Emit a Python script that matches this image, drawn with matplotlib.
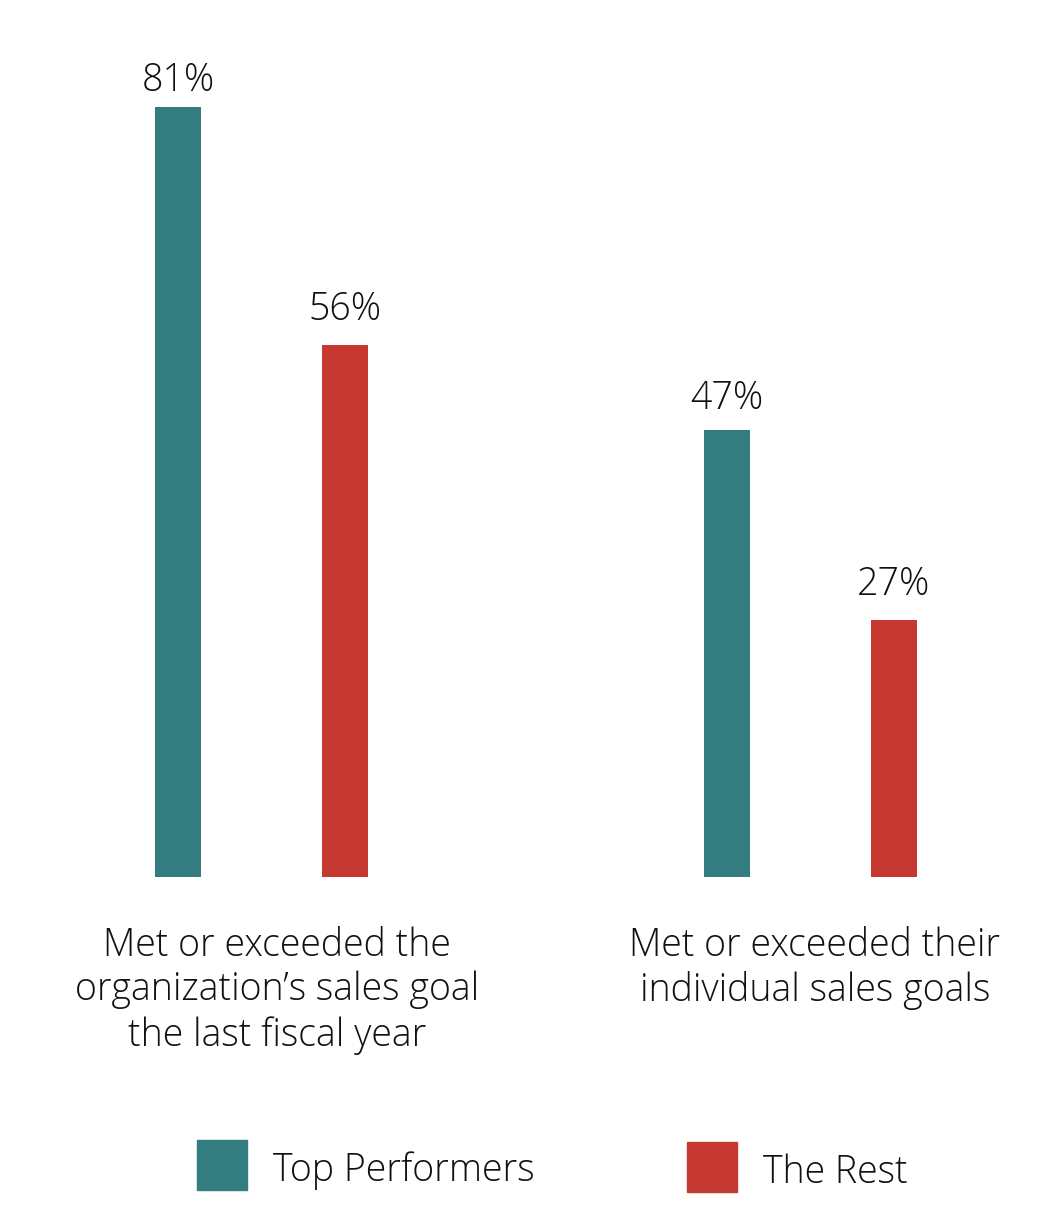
import matplotlib
matplotlib.use("Agg")
import matplotlib.pyplot as plt
from matplotlib.patches import Rectangle

categories = ["Met or exceeded the\norganization\u2019s sales goal\nthe last fiscal year",
              "Met or exceeded their\nindividual sales goals"]
top_performers = [81, 47]
the_rest = [56, 27]
series_names = ["Top Performers", "The Rest"]
colors = ["#337d81", "#c63832"]

plt.rcParams['font.family'] = ['Open Sans', 'DejaVu Sans']
W, H = 1052, 1218
fig = plt.figure(figsize=(W / 100, H / 100), dpi=100)

# axes from pixel y=877 (baseline) up to y=30, full width
ax = fig.add_axes([0, (H - 877) / H, 1, (877 - 30) / H])
ax.set_xlim(-0.4763, 1.4399)
ax.set_ylim(0, (877 - 30) / 9.506)
ax.axis("off")

off = 0.152
bw = 0.084
x = [0, 1]
b1 = ax.bar([i - off for i in x], top_performers, width=bw, color=colors[0])
b2 = ax.bar([i + off for i in x], the_rest, width=bw, color=colors[1])

# label gaps above bars (points), not uniform in the original
gaps = [[4.8, 9.1], [11.3, 12]]
for bars, vals, gp in [(b1, top_performers, gaps[0]), (b2, the_rest, gaps[1])]:
    for b, v, g in zip(bars, vals, gp):
        ax.annotate(f"{v}%", (b.get_x() + b.get_width() / 2, v),
                    xytext=(0, g), textcoords="offset points",
                    ha="center", va="bottom", fontsize=27,
                    fontweight="light", color="#111111")

label_x = [277, 815]
for lx, cat in zip(label_x, categories):
    fig.text(lx / W, 1 - 926 / H, cat, ha="center", va="top", fontsize=27,
             fontweight="light", linespacing=1.22, color="#111111")

# legend
leg = [(197, 1140, 273), (687, 1142, 763)]
for (sx, sy, tx), name, c in zip(leg, series_names, colors):
    fig.add_artist(Rectangle((sx / W, 1 - (sy + 50) / H), 50 / W, 50 / H,
                             transform=fig.transFigure, color=c))
    fig.text(tx / W, 1 - (sy + 31) / H, name, ha="left", va="center",
             fontsize=27, fontweight="light", color="#111111")

fig.savefig("out.png", dpi=100)
